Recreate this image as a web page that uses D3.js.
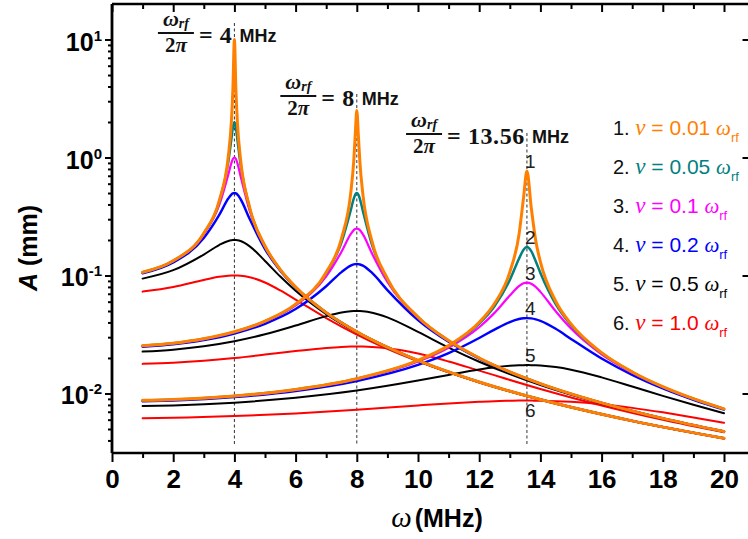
<!DOCTYPE html>
<html>
<head>
<meta charset="utf-8">
<script src="https://cdn.jsdelivr.net/npm/d3@7"></script>
<style>
  html, body { margin: 0; padding: 0; background: #fff; }
  svg { display: block; }
</style>
</head>
<body>
<svg id="chart" width="748" height="539"></svg>
<script>
// ---------------------------------------------------------------
// Driven, damped oscillation amplitude A (mm) versus drive frequency
// omega (MHz) for three RF resonances and six collision frequencies.
// ---------------------------------------------------------------

// Resonance frequencies (MHz) and their printed labels
const rfFrequencies = [4, 8, 13.56];
const rfLabels = ["4", "8", "13.56"];

// Collision frequency as a fraction of omega_rf (legend order)
const dampingText = ["0.01", "0.05", "0.1", "0.2", "0.5", "1.0"];
const legendIndex = ["1.", "2.", "3.", "4.", "5.", "6."];
const curveIndex  = ["1", "2", "3", "4", "5", "6"];

// Frequency samples for each resonance family (MHz)
const omega4  = [1, 2, 3, 3.5, 3.8, 3.9, 3.95, 4, 4.05, 4.1, 4.2, 4.5, 5, 5.5, 6, 7, 8, 10, 12, 14, 17, 20];
const omega8  = [1, 2, 3, 4, 5, 6, 7, 7.5, 7.8, 7.9, 7.95, 8, 8.05, 8.1, 8.2, 8.5, 9, 10, 11, 12, 14, 16, 18, 20];
const omega13 = [1, 2, 4, 6, 8, 10, 11, 12, 12.5, 13, 13.3, 13.45, 13.56, 13.7, 13.85, 14, 14.5, 15, 16, 17, 18, 19, 20];

// omega_rf / 2pi = 4 MHz
const amp4_nu001 = [0.1067, 0.1333, 0.2285, 0.4263, 1.020, 1.985, 3.734, 10.0, 3.694, 1.938, 0.971, 0.3762, 0.1778, 0.1123, 0.0800, 0.04848, 0.03333, 0.01905, 0.0125, 0.00889, 0.00586, 0.00417];
const amp4_nu005 = [0.1065, 0.1330, 0.2271, 0.4173, 0.9126, 1.423, 1.791, 2.0, 1.787, 1.405, 0.8768, 0.370, 0.1771, 0.1121, 0.0799, 0.04847, 0.03333, 0.01905, 0.0125, 0.00889, 0.00586, 0.00417];
const amp4_nu01  = [0.1061, 0.1322, 0.2228, 0.3924, 0.7160, 0.8967, 0.9705, 1.0, 0.9698, 0.8922, 0.6983, 0.3523, 0.1750, 0.1116, 0.0798, 0.04843, 0.03332, 0.01904, 0.0125, 0.00889, 0.00586, 0.00417];
const amp4_nu02  = [0.1043, 0.1288, 0.2079, 0.3246, 0.4494, 0.4854, 0.4962, 0.5, 0.4961, 0.4847, 0.4450, 0.3008, 0.1675, 0.1096, 0.0790, 0.04826, 0.03326, 0.01903, 0.0125, 0.00889, 0.00586, 0.00417];
const amp4_nu05  = [0.0941, 0.1109, 0.1505, 0.1811, 0.1963, 0.1990, 0.1998, 0.2, 0.1998, 0.1990, 0.1959, 0.1766, 0.1329, 0.0979, 0.0743, 0.04712, 0.03288, 0.01896, 0.01248, 0.00888, 0.00586, 0.00417];
const amp4_nu10  = [0.0730, 0.0800, 0.0916, 0.0974, 0.0995, 0.0999, 0.1, 0.1, 0.1, 0.0999, 0.0995, 0.0967, 0.0872, 0.0747, 0.0625, 0.0436, 0.0316, 0.0187, 0.0124, 0.00885, 0.00585, 0.00416];

// omega_rf / 2pi = 8 MHz
const amp8_nu001 = [0.0254, 0.02667, 0.02909, 0.03333, 0.04103, 0.05714, 0.1066, 0.2058, 0.4963, 0.9335, 1.565, 2.5, 1.559, 0.9235, 0.4845, 0.1934, 0.0941, 0.04444, 0.02807, 0.0200, 0.01212, 0.00833, 0.00615, 0.00476];
const amp8_nu005 = [0.02536, 0.02663, 0.02904, 0.03326, 0.04089, 0.05677, 0.1043, 0.1908, 0.3558, 0.4478, 0.4852, 0.5, 0.4850, 0.4467, 0.3514, 0.1808, 0.0925, 0.04427, 0.02803, 0.01998, 0.01212, 0.00833, 0.00615, 0.00476];
const amp8_nu01  = [0.02527, 0.02652, 0.0289, 0.03304, 0.04049, 0.05571, 0.0981, 0.1592, 0.2242, 0.2426, 0.2481, 0.25, 0.2481, 0.2425, 0.2231, 0.1532, 0.0881, 0.04376, 0.0279, 0.01994, 0.01211, 0.00833, 0.00615, 0.00476];
const amp8_nu02  = [0.02489, 0.02608, 0.02833, 0.03221, 0.03898, 0.05197, 0.0811, 0.1069, 0.1214, 0.1241, 0.1248, 0.125, 0.1248, 0.1240, 0.1212, 0.1051, 0.0752, 0.04188, 0.02739, 0.01975, 0.01207, 0.00831, 0.00615, 0.00476];
const amp8_nu05  = [0.02264, 0.02353, 0.02515, 0.02774, 0.03172, 0.03763, 0.04527, 0.0486, 0.04976, 0.04994, 0.04999, 0.05, 0.04999, 0.04994, 0.04975, 0.04842, 0.04416, 0.03322, 0.02448, 0.01857, 0.01178, 0.00822, 0.00611, 0.00474];
const amp8_nu10  = [0.01782, 0.01824, 0.01896, 0.0200, 0.02135, 0.0229, 0.02434, 0.02482, 0.02497, 0.02499, 0.025, 0.025, 0.025, 0.02499, 0.02497, 0.0248, 0.02416, 0.02179, 0.01867, 0.01562, 0.01091, 0.00791, 0.00598, 0.00468];

// omega_rf / 2pi = 13.56 MHz
const amp13_nu001 = [0.00875, 0.0089, 0.00953, 0.01082, 0.01335, 0.01907, 0.02544, 0.04009, 0.0578, 0.1068, 0.2217, 0.4583, 0.77, 0.3774, 0.196, 0.1304, 0.0605, 0.03886, 0.02218, 0.01522, 0.01142, 0.00903, 0.0074];
const amp13_nu005 = [0.00874, 0.00888, 0.00952, 0.0108, 0.01331, 0.01896, 0.02518, 0.0391, 0.05496, 0.0915, 0.1386, 0.1656, 0.174, 0.1607, 0.1316, 0.1051, 0.05727, 0.03796, 0.022, 0.01519, 0.01139, 0.00902, 0.0074];
const amp13_nu01  = [0.00871, 0.00885, 0.00947, 0.01074, 0.01319, 0.01864, 0.02443, 0.03644, 0.04822, 0.06766, 0.08135, 0.08591, 0.087, 0.0852, 0.07987, 0.07264, 0.04976, 0.03551, 0.0215, 0.01499, 0.01132, 0.00898, 0.00738];
const amp13_nu02  = [0.00858, 0.00872, 0.00931, 0.0105, 0.01276, 0.01747, 0.02197, 0.0295, 0.03479, 0.04034, 0.04275, 0.04337, 0.04351, 0.04328, 0.04253, 0.04132, 0.03535, 0.029, 0.01976, 0.01437, 0.01104, 0.00884, 0.0073];
const amp13_nu05  = [0.00782, 0.00792, 0.00836, 0.00919, 0.01059, 0.01286, 0.01437, 0.01597, 0.01667, 0.01718, 0.01735, 0.01739, 0.0174, 0.01739, 0.01734, 0.01725, 0.01673, 0.01589, 0.01369, 0.01146, 0.00955, 0.00802, 0.00681];
const amp13_nu10  = [0.00617, 0.00622, 0.00643, 0.00678, 0.00729, 0.00792, 0.00823, 0.0085, 0.00861, 0.00867, 0.0087, 0.0087, 0.0087, 0.0087, 0.00869, 0.00868, 0.00861, 0.00849, 0.0081, 0.00755, 0.00692, 0.00627, 0.00564];

// Axis ticks
const xMajorTicks = [0, 2, 4, 6, 8, 10, 12, 14, 16, 18, 20];
const xMinorTicks = [1, 3, 5, 7, 9, 11, 13, 15, 17, 19];
const yMajorTicks = [0.01, 0.1, 1, 10];
const yMinorTicks = [0.004, 0.005, 0.006, 0.007, 0.008, 0.009,
                     0.02, 0.03, 0.04, 0.05, 0.06, 0.07, 0.08, 0.09,
                     0.2, 0.3, 0.4, 0.5, 0.6, 0.7, 0.8, 0.9,
                     2, 3, 4, 5, 6, 7, 8, 9];

// ---------------------------------------------------------------
// Styling and layout
// ---------------------------------------------------------------
const palette     = ["#FF8000", "#008080", "#FF00FF", "#0000FF", "#000000", "#FF0000"];
const strokeWidth = [3, 2.5, 2.2, 2.4, 2, 2];
const SANS  = "'Liberation Sans', Arial, sans-serif";
const SERIF = "'Liberation Serif', 'Times New Roman', serif";

const frame = { left: 112, right: 749.5, top: 4, bottom: 453 };
const annotationBaseline = [42, 105, 143];

const svg = d3.select("#chart");

const x = d3.scaleLinear().domain([0, 20]).range([112, 724]);
const y = d3.scaleLog().domain([0.00313, 20]).range([frame.bottom, frame.top]);

// Families: each resonance, six damping curves (index 0 = lightest damping)
const families = [
  { grid: omega4,  amps: [amp4_nu001, amp4_nu005, amp4_nu01, amp4_nu02, amp4_nu05, amp4_nu10] },
  { grid: omega8,  amps: [amp8_nu001, amp8_nu005, amp8_nu01, amp8_nu02, amp8_nu05, amp8_nu10] },
  { grid: omega13, amps: [amp13_nu001, amp13_nu005, amp13_nu01, amp13_nu02, amp13_nu05, amp13_nu10] }
];

// ---------------------------------------------------------------
// Dashed guide lines at each resonance
// ---------------------------------------------------------------
const guideTop = [23, 94, 133];
rfFrequencies.forEach((f, i) => {
  svg.append("line")
    .attr("x1", x(f)).attr("x2", x(f))
    .attr("y1", guideTop[i]).attr("y2", frame.bottom - 8)
    .attr("stroke", "#333").attr("stroke-width", 1)
    .attr("stroke-dasharray", "3,2.5");
});

// ---------------------------------------------------------------
// Curves: heaviest damping first so the sharp resonances sit on top
// ---------------------------------------------------------------
const line = d3.line()
  .x(d => x(d[0]))
  .y(d => y(d[1]))
  .curve(d3.curveMonotoneX);

const curves = svg.append("g").attr("fill", "none")
  .attr("stroke-linejoin", "round").attr("stroke-linecap", "round");
for (let k = 5; k >= 0; k--) {
  families.forEach(fam => {
    const pts = fam.grid.map((w, j) => [w, fam.amps[k][j]]);
    curves.append("path")
      .attr("d", line(pts))
      .attr("stroke", palette[k])
      .attr("stroke-width", strokeWidth[k]);
  });
}

// ---------------------------------------------------------------
// Axes
// ---------------------------------------------------------------
function styleAxis(g, w) {
  g.selectAll(".domain").attr("stroke", "#000").attr("stroke-width", w);
  g.selectAll(".tick line").attr("stroke", "#000").attr("stroke-width", 2);
}

// bottom
const gxMinor = svg.append("g").attr("transform", `translate(0,${frame.bottom})`)
  .call(d3.axisBottom(x).tickValues(xMinorTicks).tickSize(5).tickSizeOuter(0).tickFormat(""));
gxMinor.select(".domain").remove();
styleAxis(gxMinor, 2.5);
const gx = svg.append("g").attr("transform", `translate(0,${frame.bottom})`)
  .call(d3.axisBottom(x).tickValues(xMajorTicks).tickSize(9).tickPadding(8).tickSizeOuter(0).tickFormat(d3.format("d")));
gx.select(".domain").attr("d", `M${frame.left},0H${frame.right}`);
styleAxis(gx, 2.5);
gx.selectAll(".tick text")
  .attr("font-family", SANS).attr("font-weight", "bold").attr("font-size", 26).attr("fill", "#000");

// top
const gtMinor = svg.append("g").attr("transform", `translate(0,${frame.top})`)
  .call(d3.axisTop(x).tickValues(xMinorTicks).tickSize(-5).tickSizeOuter(0).tickFormat(""));
gtMinor.select(".domain").remove();
styleAxis(gtMinor, 2.5);
const gt = svg.append("g").attr("transform", `translate(0,${frame.top})`)
  .call(d3.axisTop(x).tickValues(xMajorTicks).tickSize(-8).tickSizeOuter(0).tickFormat(""));
gt.select(".domain").attr("d", `M${frame.left},0H${frame.right}`);
styleAxis(gt, 2.5);

// left
const gyMinor = svg.append("g").attr("transform", `translate(${frame.left},0)`)
  .call(d3.axisLeft(y).tickValues(yMinorTicks).tickSize(4).tickSizeOuter(0).tickFormat(""));
gyMinor.select(".domain").remove();
styleAxis(gyMinor, 2.5);
const gy = svg.append("g").attr("transform", `translate(${frame.left},0)`)
  .call(d3.axisLeft(y).tickValues(yMajorTicks).tickSize(7).tickPadding(3).tickSizeOuter(0));
gy.select(".domain").attr("d", `M0,${frame.top}V${frame.bottom}`);
styleAxis(gy, 2.8);
gy.selectAll(".tick text").each(function (d) {
  const t = d3.select(this);
  const e = Math.round(Math.log10(d));
  t.text(null)
    .attr("font-family", SANS).attr("font-weight", "bold").attr("font-size", 25)
    .attr("fill", "#000").attr("dy", "0.42em").attr("x", -10);
  t.append("tspan").text("10");
  t.append("tspan").attr("dy", -10).attr("font-size", 15).text(e < 0 ? "-" + (-e) : e);
});

// right (inner ticks only)
const gr = svg.append("g").attr("transform", `translate(${frame.right},0)`)
  .call(d3.axisRight(y).tickValues(yMajorTicks).tickSize(-7).tickSizeOuter(0).tickFormat(""));
styleAxis(gr, 2.5);

// ---------------------------------------------------------------
// Axis titles
// ---------------------------------------------------------------
const yTitle = svg.append("text")
  .attr("transform", "translate(37,248) rotate(-90)")
  .attr("text-anchor", "middle")
  .attr("font-family", SANS).attr("font-weight", "bold").attr("font-size", 25).attr("fill", "#000");
yTitle.append("tspan").attr("font-style", "italic").text("A");
yTitle.append("tspan").text(" (mm)");

const xTitle = svg.append("text")
  .attr("x", 437).attr("y", 527)
  .attr("text-anchor", "middle")
  .attr("font-family", SANS).attr("font-weight", "bold").attr("font-size", 25).attr("fill", "#000");
xTitle.append("tspan").attr("font-family", SERIF).attr("font-style", "italic").attr("font-weight", "normal")
  .attr("font-size", 29).text("ω");
xTitle.append("tspan").attr("dx", 3).text("(MHz)");

// ---------------------------------------------------------------
// Resonance annotations  ω_rf / 2π = f MHz
// ---------------------------------------------------------------
rfFrequencies.forEach((f, i) => {
  const base = annotationBaseline[i];
  const g = svg.append("g").attr("fill", "#111");
  g.append("text")
    .attr("x", x(f) + 5).attr("y", base)
    .attr("font-family", SANS).attr("font-weight", "bold").attr("font-size", 18)
    .text("MHz");
  const eq = g.append("text")
    .attr("x", x(f) - 2).attr("y", base + 1)
    .attr("text-anchor", "end")
    .attr("font-family", SERIF).attr("font-weight", "bold").attr("font-size", 24)
    .attr("letter-spacing", 0.6)
    .text("= " + rfLabels[i]);
  const eqLeft = eq.node().getBBox().x;
  const fracRight = eqLeft - 5;
  const fracW = 36;
  const cx = fracRight - fracW / 2;
  const barY = base - 9;
  g.append("rect")
    .attr("x", fracRight - fracW).attr("y", barY - 1)
    .attr("width", fracW).attr("height", 2);
  const num = g.append("text")
    .attr("x", cx).attr("y", barY - 7)
    .attr("text-anchor", "middle")
    .attr("font-family", SERIF).attr("font-weight", "bold").attr("font-style", "italic").attr("font-size", 22);
  num.append("tspan").text("ω");
  num.append("tspan").attr("font-size", 14).attr("dy", 2).text("rf");
  const den = g.append("text")
    .attr("x", cx).attr("y", barY + 19)
    .attr("text-anchor", "middle")
    .attr("font-family", SERIF).attr("font-weight", "bold").attr("font-size", 21);
  den.append("tspan").text("2");
  den.append("tspan").attr("font-style", "italic").text("π");
});

// ---------------------------------------------------------------
// Curve numbers at the 13.56 MHz resonance
// ---------------------------------------------------------------
const fam13 = families[2];
const peakIdx = omega13.indexOf(13.56);
curveIndex.forEach((lbl, k) => {
  const peak = fam13.amps[k][peakIdx];
  svg.append("text")
    .attr("x", x(13.56) - 2)
    .attr("y", y(peak) + (k === 5 ? 16 : -3))
    .attr("font-family", SANS).attr("font-size", 19).attr("fill", "#222")
    .text(lbl);
});

// ---------------------------------------------------------------
// Legend
// ---------------------------------------------------------------
dampingText.forEach((v, k) => {
  const t = svg.append("text")
    .attr("x", 613).attr("y", 135 + k * 39)
    .attr("font-family", SANS).attr("font-size", 21);
  t.append("tspan").attr("fill", "#111").attr("font-size", 20).text(legendIndex[k] + " ");
  t.append("tspan").attr("fill", palette[k]).attr("font-family", SERIF).attr("font-style", "italic")
    .attr("font-size", 23).text("ν");
  t.append("tspan").attr("fill", palette[k]).text(" = " + v + " ");
  t.append("tspan").attr("fill", palette[k]).attr("font-family", SERIF).attr("font-style", "italic")
    .attr("font-size", 21).text("ω");
  t.append("tspan").attr("fill", palette[k]).attr("font-size", 13).attr("dy", 7).text("rf");
});
</script>
</body>
</html>
